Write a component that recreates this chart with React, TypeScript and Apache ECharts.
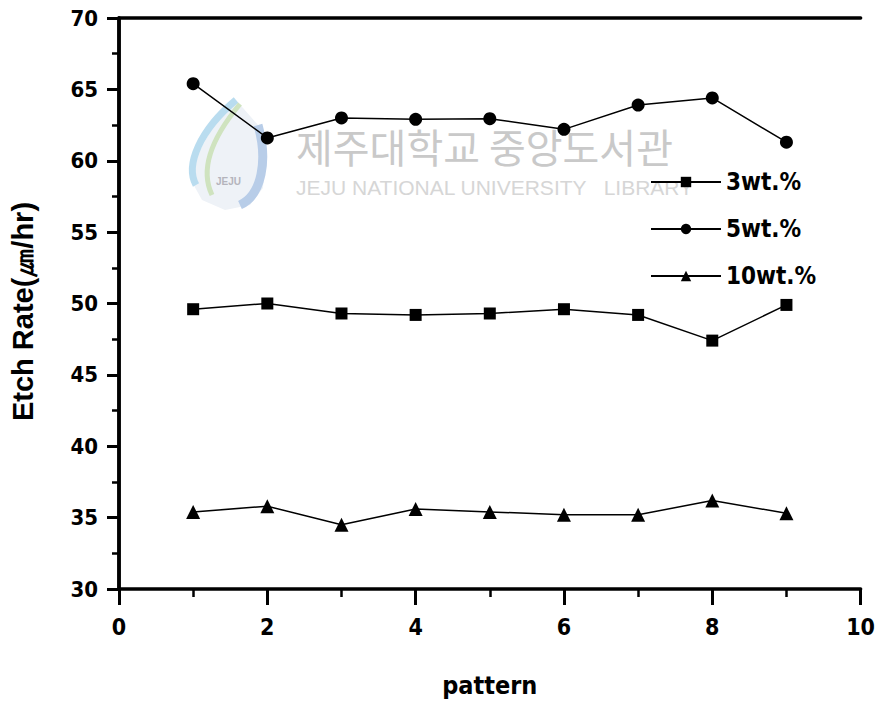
import React, { useEffect, useRef } from "react";
import * as echarts from "echarts";

const xTicks = [0, 2, 4, 6, 8, 10];
const patterns = [1, 2, 3, 4, 5, 6, 7, 8, 9];
const wt3 = [49.6, 50.0, 49.3, 49.2, 49.3, 49.6, 49.2, 47.4, 49.9];
const wt5 = [65.4, 61.6, 63.0, 62.9, 62.95, 62.2, 63.9, 64.4, 61.3];
const wt10 = [35.4, 35.8, 34.5, 35.6, 35.4, 35.2, 35.2, 36.2, 35.3];
const seriesNames = ["3wt.%", "5wt.%", "10wt.%"];
const symbols = ["rect", "circle", "triangle"];
const symbolSizes = [12, 13, 14];

const NARROW = "'Liberation Sans Narrow', 'DejaVu Sans Condensed', 'Arial Narrow', sans-serif";
const SANS = "'Liberation Sans', Arial, sans-serif";

export default function App() {
  const ref = useRef<HTMLDivElement>(null);
  useEffect(() => {
    if (!ref.current) return;
    const chart = echarts.init(ref.current, null, { renderer: "svg" });
    const all = [wt3, wt5, wt10];
    const axisLine = { show: true, lineStyle: { color: "#000", width: 3.5 } };
    chart.setOption({
      animation: false,
      backgroundColor: "#fff",
      grid: { left: 116, right: 14, top: 18, bottom: 110, containLabel: false },
      legend: {
        orient: "vertical",
        left: 645,
        top: 165,
        itemGap: 23,
        itemWidth: 70,
        itemHeight: 13,
        data: seriesNames,
        textStyle: { fontFamily: NARROW, fontWeight: "bold", fontSize: 24, color: "#000" },
      },
      xAxis: [
        {
          type: "value",
          min: 0,
          max: 10,
          interval: 2,
          name: "pattern",
          nameLocation: "middle",
          nameGap: 84,
          nameTextStyle: { fontFamily: NARROW, fontWeight: "bold", fontSize: 25, color: "#000" },
          axisLine,
          axisTick: { show: true, length: 16, lineStyle: { color: "#000", width: 3 } },
          minorTick: { show: true, splitNumber: 2, length: 8, lineStyle: { color: "#000", width: 2.5 } },
          splitLine: { show: false },
          axisLabel: { fontFamily: NARROW, fontWeight: "bold", fontSize: 23, color: "#000", margin: 26 },
        },
        {
          type: "value",
          position: "top",
          min: 0,
          max: 10,
          axisLine,
          axisTick: { show: false },
          axisLabel: { show: false },
          splitLine: { show: false },
        },
      ],
      yAxis: [
        {
          type: "value",
          min: 30,
          max: 70,
          interval: 5,
          name: "Etch Rate(㎛/hr)",
          nameLocation: "middle",
          nameGap: 82,
          nameRotate: 90,
          nameTextStyle: {
            fontFamily: SANS,
            fontWeight: "bold",
            fontSize: 29,
            color: "#000",
            padding: [0, 16, 0, 0],
          },
          axisLine,
          axisTick: { show: true, length: 12, lineStyle: { color: "#000", width: 3 } },
          minorTick: { show: true, splitNumber: 2, length: 7, lineStyle: { color: "#000", width: 2.5 } },
          splitLine: { show: false },
          axisLabel: { fontFamily: NARROW, fontWeight: "bold", fontSize: 22, color: "#000", margin: 21 },
        },
        {
          type: "value",
          position: "right",
          min: 30,
          max: 70,
          axisLine,
          axisTick: { show: false },
          axisLabel: { show: false },
          splitLine: { show: false },
        },
      ],
      graphic: [
        {
          type: "text",
          left: 296,
          top: 126,
          z: -1,
          style: {
            text: "제주대학교 중앙도서관",
            fontFamily: "'Noto Sans CJK KR', sans-serif",
            fontSize: 40,
            fill: "#c9c9c9",
          },
        },
        {
          type: "text",
          left: 296,
          top: 177,
          z: -1,
          style: {
            text: "JEJU NATIONAL UNIVERSITY   LIBRARY",
            fontFamily: SANS,
            fontSize: 21,
            fill: "#d6d6d6",
          },
        },
        {
          type: "polygon",
          z: -2,
          shape: {
            points: [
              [236, 100], [212, 128], [196, 158], [192, 182], [202, 200], [225, 210], [250, 205], [263, 188], [265, 155], [258, 125],
            ],
          },
          style: { fill: "#eef2f7" },
        },
        {
          type: "bezierCurve",
          z: -1,
          shape: { x1: 236, y1: 100, x2: 196, y2: 185, cpx1: 200, cpy1: 130, cpx2: 185, cpy2: 165 },
          style: { stroke: "#b9dcef", lineWidth: 7, fill: "none" },
        },
        {
          type: "bezierCurve",
          z: -1,
          shape: { x1: 240, y1: 104, x2: 212, y2: 195, cpx1: 210, cpy1: 140, cpx2: 200, cpy2: 170 },
          style: { stroke: "#cfe3bf", lineWidth: 5, fill: "none" },
        },
        {
          type: "bezierCurve",
          z: -1,
          shape: { x1: 258, y1: 125, x2: 240, y2: 205, cpx1: 268, cpy1: 160, cpx2: 262, cpy2: 195 },
          style: { stroke: "#b8cde8", lineWidth: 9, fill: "none" },
        },
        {
          type: "text",
          left: 216,
          top: 176,
          z: -1,
          style: { text: "JEJU", fontFamily: SANS, fontSize: 10, fontWeight: "bold", fill: "#b4b4bc" },
        },
      ],
      series: seriesNames.map((name, i) => ({
        name,
        type: "line",
        data: patterns.map((p, j) => [p, all[i][j]]),
        symbol: symbols[i],
        symbolSize: symbolSizes[i],
        itemStyle: { color: "#000" },
        lineStyle: { color: "#000", width: 1.5 },
        z: 3,
      })),
    });
    return () => chart.dispose();
  }, []);
  return <div ref={ref} style={{ position: "fixed", left: 0, top: 0, width: 878, height: 703 }} />;
}
